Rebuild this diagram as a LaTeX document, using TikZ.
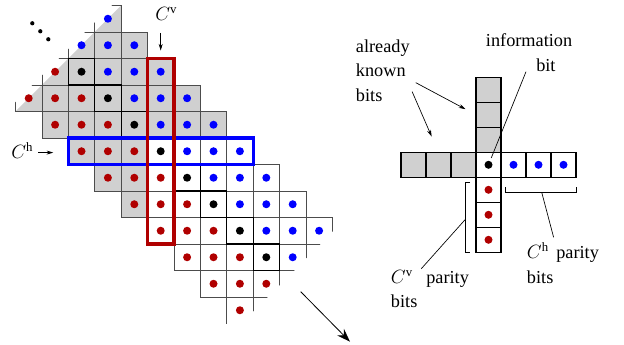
\documentclass[tikz,border=0pt]{standalone}
\usepackage{fontspec}
\setmainfont{Liberation Serif}
\usetikzlibrary{positioning}
\usetikzlibrary{arrows.meta}
\usetikzlibrary{calc}
\definecolor{parityRed}{RGB}{176,0,0}
\definecolor{parityBlue}{RGB}{0,0,255}
\definecolor{knownGray}{RGB}{208,208,208}
\tikzset{%
	% Specifications for the cells of the cross:
	cellBase/.style = {rectangle, draw=black, line width=0.9pt,
		minimum size=18.75pt, inner sep=0pt, outer sep=0pt},
	knownCell/.style = {cellBase, fill=knownGray},
	freeCell/.style = {cellBase, fill=white},
	% bits
	infoDot/.style = {fill=black},
	rowDot/.style = {fill=parityBlue},
	colDot/.style = {fill=parityRed},
	% staircase grid
	gridLine/.style = {draw=black!70, line width=0.6pt},
	infoBox/.style = {draw=black, line width=0.9pt},
	% labels and pointers
	lbl/.style = {inner sep=0pt, font=\fontsize{13.7pt}{16pt}\selectfont},
	labelArrow/.style = {-{Stealth[length=5pt, width=3pt]}, line width=0.5pt},
	pointer/.style = {line width=0.5pt}
}
\begin{document}
\begin{tikzpicture}[x=0.75pt, y=-0.75pt]
		\useasboundingbox (0,0) rectangle (624,345);
		%% Staircase of component codes
		\begin{scope}[shift={(15.5,5.5)}, x=19.8pt, y=-19.875pt]
			% already known bits
			\begin{scope}
				\clip (5,-1) -- (14,-1) -- (14,10) -- (-1,10) -- (-1,5) -- cycle;
				\foreach \r in {0,...,4}
					\fill[knownGray] (\r-3,\r) rectangle ++(7,1);
				\fill[knownGray] (2,5) rectangle (5,6);
				\fill[knownGray] (3,6) rectangle (5,7);
				\fill[knownGray] (4,7) rectangle (5,8);
			\end{scope}
			% cell borders
			\begin{scope}
				\clip (4.65,-1) -- (21.55,-1) -- (-1,21.55) -- (-1,4.65) -- cycle;
				\foreach \r in {0,...,10}
					\foreach \c in {-3,...,3}
						\draw[gridLine] (\r+\c,\r) rectangle ++(1,1);
				\foreach \c in {8,...,14}
					\draw[gridLine] (\c,12) |- (\c+1,11);
				\foreach \r in {2,...,9}
					\draw[infoBox] (\r,\r) rectangle ++(1,1);
			\end{scope}
			% bits of every row
			\foreach \r in {0,...,11}
				\foreach \c in {-3,...,3}{
					\pgfmathtruncatemacro{\colIdx}{\r+\c}
					\pgfmathtruncatemacro{\sumIdx}{2*\r+\c}
					\ifnum\sumIdx>2 \ifnum\sumIdx<20
						\ifnum\c<0 \fill[colDot] (\colIdx+.5,\r+.5) circle (3pt);
						\else\ifnum\c=0 \fill[infoDot] (\colIdx+.5,\r+.5) circle (3pt);
						\else \fill[rowDot] (\colIdx+.5,\r+.5) circle (3pt);
						\fi\fi
					\fi\fi
				}
			% the two codewords
			\draw[draw=parityBlue, line width=2.4pt] (2,5) rectangle (9,6);
			\draw[draw=parityRed, line width=2.4pt] (5,2) rectangle (6,9);
			\coordinate (CvTip) at (5.5,1.7);
			\coordinate (ChTip) at (1.43,5.55);
		\end{scope}
		\foreach \k in {0,1,2}
			\fill (32.3+8*\k,23.3+8*\k) circle (1.6pt);
		\node[lbl, anchor=base west] (Cv) at (155,20.7) {$C^{\mathrm{v}}$};
		\draw[labelArrow, shorten <=9pt] (Cv.south -| CvTip) -- (CvTip);
		\node[lbl, anchor=base west] (Ch) at (11,158.3) {$C^{\mathrm{h}}$};
		\draw[labelArrow, shorten <=3.5pt] (Ch.east |- ChTip) -- (ChTip);
		\coordinate (flowStart) at (300.7,291.7);
		\coordinate (flowEnd) at (350,341.7);
		\draw[-{Stealth[length=10pt, width=7pt]}, line width=0.6pt] (flowStart) -- (flowEnd);
		%% Cross of one information bit
		\node[freeCell] (info) at (488.5,164.8) {};
		\node[knownCell, left=0pt of info] (hKnown3) {};
		\node[knownCell, left=0pt of hKnown3] (hKnown2) {};
		\node[knownCell, left=0pt of hKnown2] (hKnown1) {};
		\node[knownCell, above=0pt of info] (vKnown3) {};
		\node[knownCell, above=0pt of vKnown3] (vKnown2) {};
		\node[knownCell, above=0pt of vKnown2] (vKnown1) {};
		\node[freeCell, right=0pt of info] (hPar1) {};
		\node[freeCell, right=0pt of hPar1] (hPar2) {};
		\node[freeCell, right=0pt of hPar2] (hPar3) {};
		\node[freeCell, below=0pt of info] (vPar1) {};
		\node[freeCell, below=0pt of vPar1] (vPar2) {};
		\node[freeCell, below=0pt of vPar2] (vPar3) {};
		\fill[infoDot] (info) circle (3pt);
		\fill[rowDot] (hPar1) circle (3pt);
		\fill[rowDot] (hPar2) circle (3pt);
		\fill[rowDot] (hPar3) circle (3pt);
		\fill[colDot] (vPar1) circle (3pt);
		\fill[colDot] (vPar2) circle (3pt);
		\fill[colDot] (vPar3) circle (3pt);
		%% Labels
		\node[lbl, anchor=base west] (alreadyLbl) at (355.7,52.3) {already};
		\node[lbl, anchor=base west] (knownLbl) at (355.7,77) {known};
		\node[lbl, anchor=base west] (bitsLbl) at (355.7,101.7) {bits};
		\draw[labelArrow, shorten <=8.3pt, shorten >=9pt] (knownLbl.south east) -- (vKnown2.west);
		\draw[labelArrow, shorten <=11.6pt, shorten >=12.9pt] (knownLbl.south east) -- (hKnown2.north);
		\node[lbl, anchor=base west] (infoLbl) at (485.7,46.7) {information};
		\node[lbl, anchor=base west] (bitLbl) at (536,71.7) {bit};
		\draw[pointer, shorten >=5.5pt] ([xshift=-7.5pt]bitLbl.base west) -- (info.center);
		% parity brackets
		\draw[pointer] (505.7,187.3) -- (505.7,192.3) -- (576,192.3) -- (576,187.3);
		\draw[pointer] (470,182.7) -- (465.7,182.7) -- (465.7,252.3) -- (470,252.3);
		\coordinate (ChBrace) at (541.7,192.3);
		\coordinate (CvBrace) at (465.7,219);
		\node[lbl, anchor=base west] (ChSym) at (526.7,258.7) {$C^{\mathrm{h}}$};
		\node[lbl, anchor=base west] (ChParity) at (556,258.7) {parity};
		\node[lbl, anchor=base west] (ChBits) at (526.7,283.3) {bits};
		\node[lbl, anchor=base west] (CvSym) at (390.7,283.5) {$C^{\mathrm{v}}$};
		\node[lbl, anchor=base west] (CvParity) at (426,283.5) {parity};
		\node[lbl, anchor=base west] (CvBits) at (390.7,307.3) {bits};
		\draw[pointer, shorten >=7pt] (ChBrace) -- (ChParity.north west);
		\draw[pointer, shorten >=2pt] (CvBrace) -- ($(CvSym.north east)!0.5!(CvParity.north west)$);
	\end{tikzpicture}
\end{document}
